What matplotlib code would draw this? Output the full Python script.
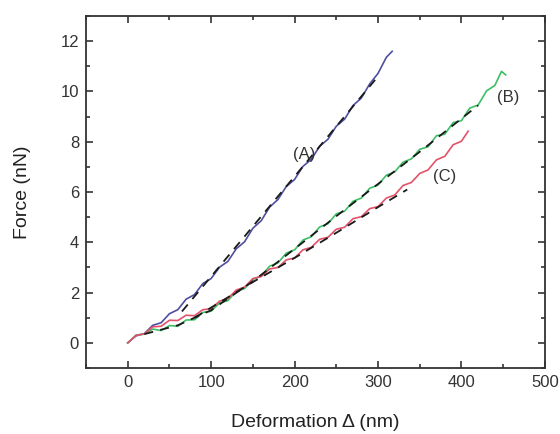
import matplotlib
matplotlib.use("Agg")
import matplotlib.pyplot as plt
from matplotlib.ticker import MultipleLocator

plt.rcParams['font.family'] = ['Liberation Sans', 'DejaVu Sans']

# ---- data ----
a_x = [0, 10, 20, 30, 40, 50, 60, 70, 80, 90, 100, 110, 120, 130, 140, 150, 160,
       170, 180, 190, 200, 210, 220, 230, 240, 250, 260, 270, 280, 290, 300, 310, 317]
a_y = [0.00, 0.28, 0.37, 0.70, 0.80, 1.16, 1.32, 1.74, 1.92, 2.36, 2.56, 3.01, 3.24,
       3.74, 4.02, 4.56, 4.86, 5.40, 5.70, 6.22, 6.50, 7.02, 7.30, 7.82, 8.10, 8.62,
       8.90, 9.44, 9.74, 10.30, 10.72, 11.36, 11.60]

b_x = [0, 10, 20, 30, 40, 50, 60, 70, 80, 90, 100, 110, 120, 130, 140, 150, 160,
       170, 180, 190, 200, 210, 220, 230, 240, 250, 260, 270, 280, 290, 300, 310,
       320, 330, 340, 350, 360, 370, 380, 390, 400, 410, 420, 430, 440, 448, 453]
b_y = [0.00, 0.31, 0.35, 0.55, 0.49, 0.69, 0.66, 0.91, 0.92, 1.21, 1.26, 1.59, 1.68,
       2.05, 2.16, 2.53, 2.66, 3.05, 3.18, 3.57, 3.70, 4.09, 4.22, 4.61, 4.74, 5.13,
       5.24, 5.63, 5.76, 6.15, 6.28, 6.67, 6.80, 7.19, 7.32, 7.70, 7.80, 8.24, 8.30,
       8.76, 8.84, 9.34, 9.46, 10.02, 10.24, 10.80, 10.66]

c_x = [0, 10, 20, 30, 40, 50, 60, 70, 80, 90, 100, 110, 120, 130, 140, 150, 160,
       170, 180, 190, 200, 210, 220, 230, 240, 250, 260, 270, 280, 290, 300, 310,
       320, 330, 340, 350, 360, 370, 380, 390, 400, 408]
c_y = [0.00, 0.30, 0.36, 0.64, 0.66, 0.90, 0.89, 1.10, 1.08, 1.32, 1.36, 1.66, 1.76,
       2.10, 2.22, 2.56, 2.64, 2.94, 3.00, 3.30, 3.38, 3.70, 3.80, 4.12, 4.20, 4.52,
       4.60, 4.94, 5.02, 5.34, 5.42, 5.76, 5.88, 6.26, 6.38, 6.74, 6.88, 7.28, 7.42,
       7.88, 8.02, 8.42]

fit_a_x = [65, 300]
fit_a_y = [1.25, 10.60]
fit_b_x = [20, 60, 100, 150, 200, 250, 300, 350, 420]
fit_b_y = [0.35, 0.70, 1.30, 2.45, 3.74, 5.04, 6.32, 7.60, 9.45]
fit_c_x = [80, 150, 200, 250, 300, 335]
fit_c_y = [1.00, 2.42, 3.38, 4.38, 5.40, 6.10]

labels = ["(A)", "(B)", "(C)"]
label_pos = [(212, 7.5), (456, 9.76), (380, 6.6)]

# ---- figure ----
fig = plt.figure(figsize=(5.6, 4.34), dpi=100)
ax = fig.add_axes([0.1536, 0.152, 0.8194, 0.811])

ax.plot(a_x, a_y, color='#4f4fa0', lw=1.2, zorder=2)
ax.plot(b_x, b_y, color='#3cbf64', lw=1.2, zorder=2)
ax.plot(c_x, c_y, color='#e2526a', lw=1.2, zorder=2)

dash = (0, (5, 4))
ax.plot(fit_a_x, fit_a_y, color='#1a1a1a', lw=1.3, ls=dash, zorder=3)
ax.plot(fit_b_x, fit_b_y, color='#1a1a1a', lw=1.3, ls=dash, zorder=3)
ax.plot(fit_c_x, fit_c_y, color='#1a1a1a', lw=1.3, ls=dash, zorder=3)

for t, (lx, ly) in zip(labels, label_pos):
    ax.text(lx, ly, t, ha='center', va='center', fontsize=12, color='#333333')

ax.set_xlim(-50, 500)
ax.set_ylim(-1, 13)
ax.xaxis.set_major_locator(MultipleLocator(100))
ax.xaxis.set_minor_locator(MultipleLocator(50))
ax.yaxis.set_major_locator(MultipleLocator(2))
ax.yaxis.set_minor_locator(MultipleLocator(1))
ax.tick_params(which='both', direction='in', top=True, right=True,
               labeltop=False, labelright=False, color='#333333', width=1.2)
ax.tick_params(which='major', length=5, labelsize=12, labelcolor='#333333', pad=5)
ax.tick_params(which='minor', length=3)
for s in ax.spines.values():
    s.set_linewidth(1.3)
    s.set_color('#333333')

ax.set_xlabel('Deformation \u0394 (nm)', fontsize=14, color='#222222', labelpad=17)
ax.set_ylabel('Force (nN)', fontsize=14, color='#222222', labelpad=21)

fig.savefig('out.png', dpi=100)
